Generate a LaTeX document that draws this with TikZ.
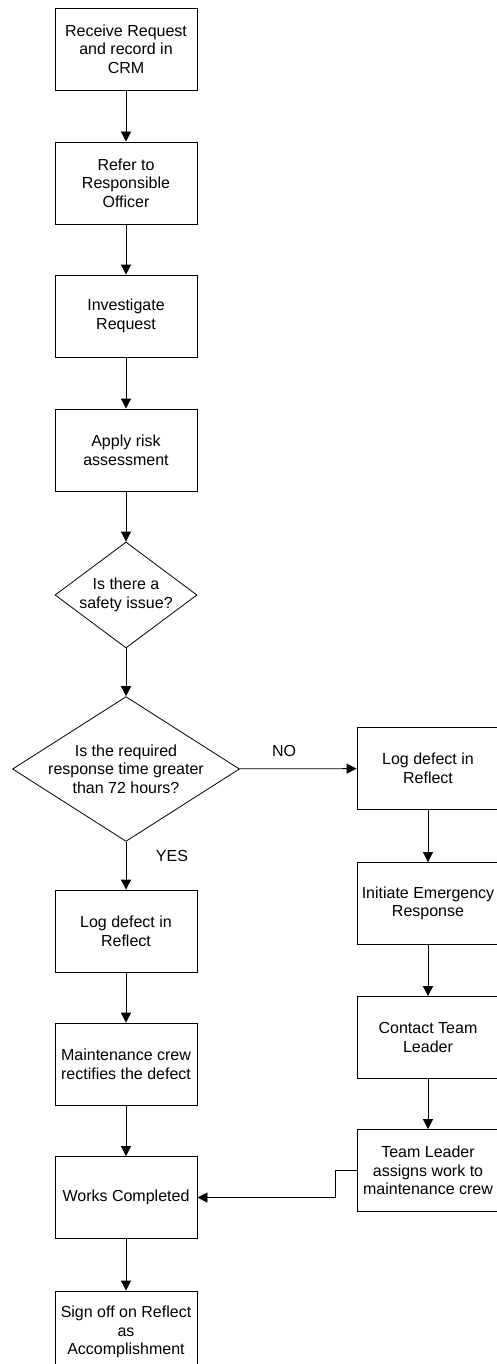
\documentclass[tikz,border=0pt]{standalone}
\usepackage{fontspec}
\setmainfont{Liberation Sans}
\usetikzlibrary{shapes.geometric,arrows.meta}
\begin{document}
\begin{tikzpicture}[x=1pt,y=-1pt,
	every node/.style={font=\fontsize{16}{18.7}\selectfont,align=center},
	stepbox/.style={draw,line width=0.8pt,minimum width=142pt,minimum height=82pt,inner sep=0pt},
	query/.style={draw,diamond,line width=0.8pt,inner sep=-15pt},
	arr/.style={line width=0.8pt,-{Triangle[length=10pt,width=10pt]}}]
	\useasboundingbox (0,0) rectangle (497,1364);
	% main column
	\node[stepbox] (recv) at (126,49) {Receive Request\\ and record in\\ CRM};
	\node[stepbox] (refer) at (126,183) {Refer to\\ Responsible\\ Officer};
	\node[stepbox] (invest) at (126,316) {Investigate\\ Request};
	\node[stepbox] (risk) at (126,450) {Apply risk\\ assessment};
	\node[query,minimum width=142pt,minimum height=106pt] (safe) at (126,595) {Is there a\\ safety issue?};
	\node[query,minimum width=227pt,minimum height=138pt] (time) at (126,769)
		{Is the required\\ response time greater\\ than 72 hours?};
	\node[stepbox] (logl) at (126,931) {Log defect in\\ Reflect};
	\node[stepbox] (crew) at (126,1064) {Maintenance crew\\ rectifies the defect};
	\node[stepbox] (done) at (126,1197.5) {Works Completed};
	\node[stepbox] (sign) at (126,1332) {Sign off on Reflect\\ as\\ Accomplishment};
	% emergency column
	\node[stepbox] (logr) at (428,768.5) {Log defect in\\ Reflect};
	\node[stepbox] (emerg) at (428,903.5) {Initiate Emergency\\ Response};
	\node[stepbox] (lead) at (428,1037.5) {Contact Team\\ Leader};
	\node[stepbox] (assign) at (428,1170.5) {Team Leader\\ assigns work to\\ maintenance crew};
	\draw[arr] (recv) -- (refer);
	\draw[arr] (refer) -- (invest);
	\draw[arr] (invest) -- (risk);
	\draw[arr] (risk) -- (safe);
	\draw[arr] (safe) -- (time);
	\draw[arr] (time) -- node[pos=0.38,yshift=18pt] {NO} (logr);
	\draw[arr] (time) -- node[pos=0.3,xshift=46pt] {YES} (logl);
	\draw[arr] (logl) -- (crew);
	\draw[arr] (crew) -- (done);
	\draw[arr] (done) -- (sign);
	\draw[arr] (logr) -- (emerg);
	\draw[arr] (emerg) -- (lead);
	\draw[arr] (lead) -- (assign);
	\draw[arr] (assign.west) -- ++(-21,0) |- (done.east);
\end{tikzpicture}
\end{document}
